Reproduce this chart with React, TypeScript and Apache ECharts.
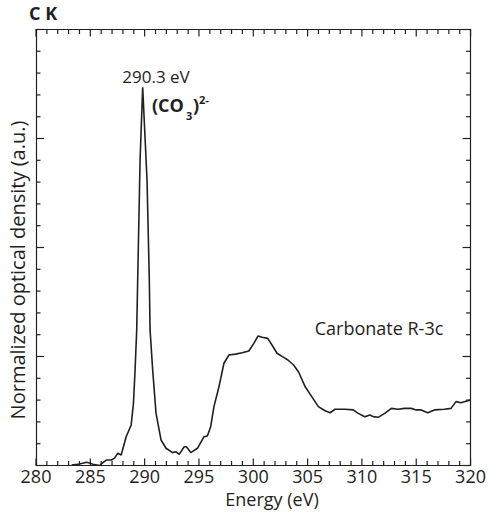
import React, { useEffect, useRef } from "react";
import * as echarts from "echarts";

const energy = [
  283.27, 284.03, 284.64, 284.94, 285.24, 285.86, 286.16, 286.47, 286.93, 287.23,
  287.53, 287.84, 288.3, 288.76, 288.97, 289.12, 289.27, 289.36, 289.58, 289.82,
  290.22, 290.43, 290.5, 290.74, 291.05, 291.51, 291.97, 292.57, 292.88, 293.18,
  293.64, 293.85, 294.25, 294.86, 295.47, 295.77, 296.08, 296.38, 296.84, 297.3,
  297.76, 298.37, 298.97, 299.59, 300.05, 300.44, 300.81, 301.33, 301.78, 302.18,
  302.79, 303.19, 303.71, 304.16, 304.78, 305.38, 305.99, 306.61, 307.07, 307.52,
  308.44, 309.2, 309.66, 310.27, 310.73, 311.03, 311.49, 312.1, 312.71, 313.32,
  313.93, 314.54, 314.99, 315.45, 316.06, 316.68, 317.59, 318.2, 318.66, 319.11,
  319.73, 319.98,
];
const density = [
  0.02, 0.07, 0.15, 0.11, 0.06, 0.0, 0.13, 0.25, 0.25, 0.34,
  0.56, 0.48, 1.32, 1.86, 2.85, 4.38, 6.22, 8.51, 14.01, 17.35,
  13.1, 8.51, 6.22, 4.38, 2.39, 1.17, 0.79, 0.59, 0.63, 0.51,
  0.86, 0.86, 0.59, 0.79, 1.32, 1.35, 1.78, 2.7, 3.61, 4.69,
  5.07, 5.11, 5.17, 5.25, 5.6, 5.94, 5.88, 5.83, 5.48, 5.15,
  4.96, 4.84, 4.61, 4.3, 3.61, 3.16, 2.7, 2.51, 2.42, 2.58,
  2.58, 2.55, 2.39, 2.24, 2.32, 2.24, 2.21, 2.39, 2.62, 2.58,
  2.62, 2.62, 2.55, 2.55, 2.42, 2.55, 2.58, 2.62, 2.93, 2.88,
  2.97, 3.0,
];

// tick positions on the frame (major every 5 units, minor every unit)
const xTicks = [
  280, 281, 282, 283, 284, 285, 286, 287, 288, 289, 290, 291, 292, 293, 294, 295,
  296, 297, 298, 299, 300, 301, 302, 303, 304, 305, 306, 307, 308, 309, 310, 311,
  312, 313, 314, 315, 316, 317, 318, 319, 320,
];
const yTicks = [0, 1, 2, 3, 4, 5, 6, 7, 8, 9, 10, 11, 12, 13, 14, 15, 16, 17, 18, 19, 20];

const xMin = 280;
const xMax = 320;
const xStep = 5;
const yMin = 0;
const yMax = 20;
const yStep = 5;

const INK = "#231f20";
const FONT = "'Open Sans', 'DejaVu Sans', sans-serif";

function xAxisCfg(position: "bottom" | "top", showLabels: boolean) {
  return {
    type: "value",
    position,
    min: xMin,
    max: xMax,
    interval: xStep,
    axisLine: { show: true, onZero: false, lineStyle: { color: INK, width: 1.2 } },
    axisTick: { show: false },
    minorTick: { show: false },
    splitLine: { show: false },
    axisLabel: showLabels
      ? { show: true, fontSize: 18, lineHeight: 15, fontFamily: FONT, color: INK, margin: 3 }
      : { show: false },
  };
}

function yAxisCfg(position: "left" | "right") {
  return {
    type: "value",
    position,
    min: yMin,
    max: yMax,
    interval: yStep,
    axisLine: { show: true, onZero: false, lineStyle: { color: INK, width: 1.2 } },
    axisTick: { show: false },
    minorTick: { show: false },
    splitLine: { show: false },
    axisLabel: { show: false },
  };
}

const tickStyle = { stroke: INK, lineWidth: 1.2 };

export default function App() {
  const ref = useRef<HTMLDivElement>(null);
  useEffect(() => {
    document.body.style.margin = "0";
    if (!ref.current) return;
    const chart = echarts.init(ref.current, undefined, { renderer: "svg" });
    chart.setOption({
      animation: false,
      grid: { left: 36, right: 16, top: 29.5, bottom: 56.5 },
      xAxis: [xAxisCfg("bottom", true), xAxisCfg("top", false)],
      yAxis: [yAxisCfg("left"), yAxisCfg("right")],
      series: [
        {
          type: "line",
          data: energy.map((e, i) => [e, density[i]]),
          showSymbol: false,
          symbol: "none",
          smooth: false,
          lineStyle: { color: INK, width: 1.6 },
          xAxisIndex: 0,
          yAxisIndex: 0,
        },
        {
          type: "custom",
          name: "xTicks",
          coordinateSystem: "cartesian2d",
          xAxisIndex: 0,
          yAxisIndex: 0,
          silent: true,
          clip: false,
          data: xTicks.map((v) => [v, yMin]),
          renderItem: (_p: any, api: any) => {
            const v = api.value(0);
            const b = api.coord([v, yMin]);
            const t = api.coord([v, yMax]);
            const len = v % xStep === 0 ? 7 : 4.5;
            return {
              type: "group",
              children: [
                { type: "line", shape: { x1: b[0], y1: b[1], x2: b[0], y2: b[1] - len }, style: tickStyle },
                { type: "line", shape: { x1: t[0], y1: t[1], x2: t[0], y2: t[1] + len }, style: tickStyle },
              ],
            };
          },
        },
        {
          type: "custom",
          name: "yTicks",
          coordinateSystem: "cartesian2d",
          xAxisIndex: 0,
          yAxisIndex: 0,
          silent: true,
          clip: false,
          data: yTicks.map((v) => [xMin, v]),
          renderItem: (_p: any, api: any) => {
            const v = api.value(1);
            const l = api.coord([xMin, v]);
            const r = api.coord([xMax, v]);
            const len = v % yStep === 0 ? 8 : 4.5;
            return {
              type: "group",
              children: [
                { type: "line", shape: { x1: l[0], y1: l[1], x2: l[0] + len, y2: l[1] }, style: tickStyle },
                { type: "line", shape: { x1: r[0], y1: r[1], x2: r[0] - len, y2: r[1] }, style: tickStyle },
              ],
            };
          },
        },
      ],
      graphic: [
        {
          type: "text",
          left: 29,
          top: 4,
          style: { text: "C K", font: `bold 18px ${FONT}`, fill: INK },
        },
        {
          type: "text",
          x: 156,
          y: 76,
          style: {
            text: "290.3 eV",
            font: `17px ${FONT}`,
            fill: INK,
            textAlign: "center",
            textVerticalAlign: "middle",
          },
        },
        {
          type: "text",
          x: 152,
          y: 113.5,
          style: { text: "(CO", font: `bold 18px ${FONT}`, fill: INK, textVerticalAlign: "bottom" },
        },
        {
          type: "text",
          x: 186,
          y: 121,
          style: { text: "3", font: `bold 11px ${FONT}`, fill: INK, textVerticalAlign: "bottom" },
        },
        {
          type: "text",
          x: 193,
          y: 113.5,
          style: { text: ")", font: `bold 18px ${FONT}`, fill: INK, textVerticalAlign: "bottom" },
        },
        {
          type: "text",
          x: 199,
          y: 105,
          style: { text: "2-", font: `bold 11px ${FONT}`, fill: INK, textVerticalAlign: "bottom" },
        },
        {
          type: "text",
          x: 379,
          y: 327.5,
          style: {
            text: "Carbonate R-3c",
            font: `18px ${FONT}`,
            fill: INK,
            textAlign: "center",
            textVerticalAlign: "middle",
          },
        },
        {
          type: "text",
          x: 272,
          y: 499,
          style: {
            text: "Energy (eV)",
            font: `18px ${FONT}`,
            lineHeight: 16,
            fill: INK,
            textAlign: "center",
            textVerticalAlign: "middle",
          },
        },
        {
          type: "text",
          x: 17,
          y: 270,
          rotation: Math.PI / 2,
          style: {
            text: "Normalized optical density (a.u.)",
            font: `20px ${FONT}`,
            fill: INK,
            textAlign: "center",
            textVerticalAlign: "middle",
          },
        },
      ],
    });
    return () => chart.dispose();
  }, []);
  return <div ref={ref} style={{ width: 489, height: 522 }} />;
}
